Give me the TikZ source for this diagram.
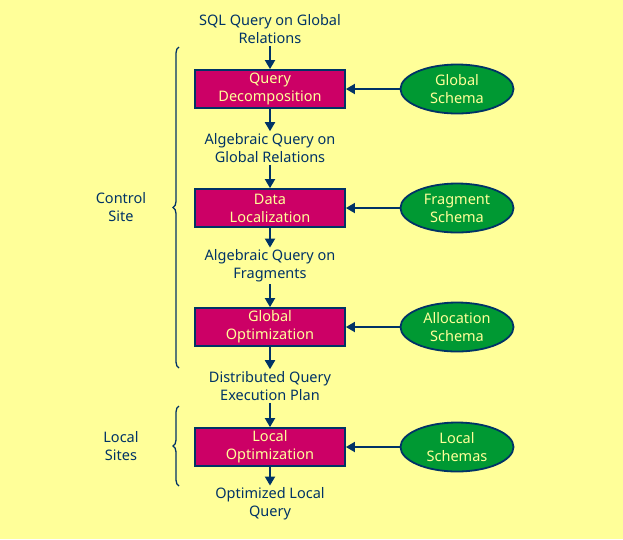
\documentclass[tikz,border=0pt]{standalone}
\usepackage{fontspec}
\setmainfont{Noto Sans}
\usetikzlibrary{arrows.meta,decorations.pathreplacing,shapes.geometric}
\definecolor{bg}{HTML}{FFFF99}
\definecolor{navy}{HTML}{003366}
\definecolor{boxfill}{HTML}{CC0066}
\definecolor{ellfill}{HTML}{009933}
\definecolor{lbl}{HTML}{FFFF99}
\begin{document}
\begin{tikzpicture}[x=1pt,y=-1pt,
 every node/.style={font=\fontsize{14.5}{18}\selectfont, align=center},
 stepbox/.style={draw=navy, line width=1.8pt, fill=boxfill, text=lbl, minimum width=150pt, minimum height=38pt, inner sep=0pt},
 schema/.style={ellipse, draw=navy, line width=1.8pt, fill=ellfill, text=lbl, minimum width=113pt, minimum height=49pt, inner sep=0pt},
 caption/.style={text=navy, inner sep=2pt},
 conn/.style={draw=navy, line width=1.8pt, -{Triangle[length=9pt,width=10pt]}},
 bracestyle/.style={draw=navy, line width=1.3pt, decorate, decoration={brace, amplitude=6pt}}]
\fill[bg] (0,0) rectangle (623,539);
\useasboundingbox (0,0) rectangle (623,539);

\node[caption] (t0) at (270,29) {SQL Query on Global\\Relations};
\node[stepbox] (q1) at (270,89) {Query\\Decomposition};
\node[caption] (t1) at (270,148) {Algebraic Query on\\Global Relations};
\node[stepbox] (q2) at (270,208) {Data\\Localization};
\node[caption] (t2) at (270,266) {Algebraic Query on\\Fragments};
\node[stepbox] (q3) at (270,327) {Global\\Optimization};
\node[caption] (t3) at (270,386) {Distributed Query\\Execution Plan};
\node[stepbox] (q4) at (270,447) {Local\\Optimization};
\node[caption] (t4) at (270,504) {Optimized Local\\Query};

\node[schema] (s1) at (457,89) {Global\\Schema};
\node[schema] (s2) at (457,208) {Fragment\\Schema};
\node[schema] (s3) at (457,327) {Allocation\\Schema};
\node[schema] (s4) at (457,447) {Local\\Schemas};

\draw[conn] (t0) -- (q1);
\draw[conn] (q1) -- (t1);
\draw[conn] (t1) -- (q2);
\draw[conn] (q2) -- (t2);
\draw[conn] (t2) -- (q3);
\draw[conn] (q3) -- (t3);
\draw[conn] (t3) -- (q4);
\draw[conn] (q4) -- (t4);
\draw[conn] (s1) -- (q1);
\draw[conn] (s2) -- (q2);
\draw[conn] (s3) -- (q3);
\draw[conn] (s4) -- (q4);

\coordinate (c1b) at (179,368);
\coordinate (c1t) at (179,47);
\coordinate (c2b) at (179,486);
\coordinate (c2t) at (179,406);
\draw[bracestyle] (c1b) -- (c1t);
\draw[bracestyle] (c2b) -- (c2t);
\node[caption] (cs) at (121,207) {Control\\Site};
\node[caption] (ls) at (121,446) {Local\\Sites};
\end{tikzpicture}
\end{document}
